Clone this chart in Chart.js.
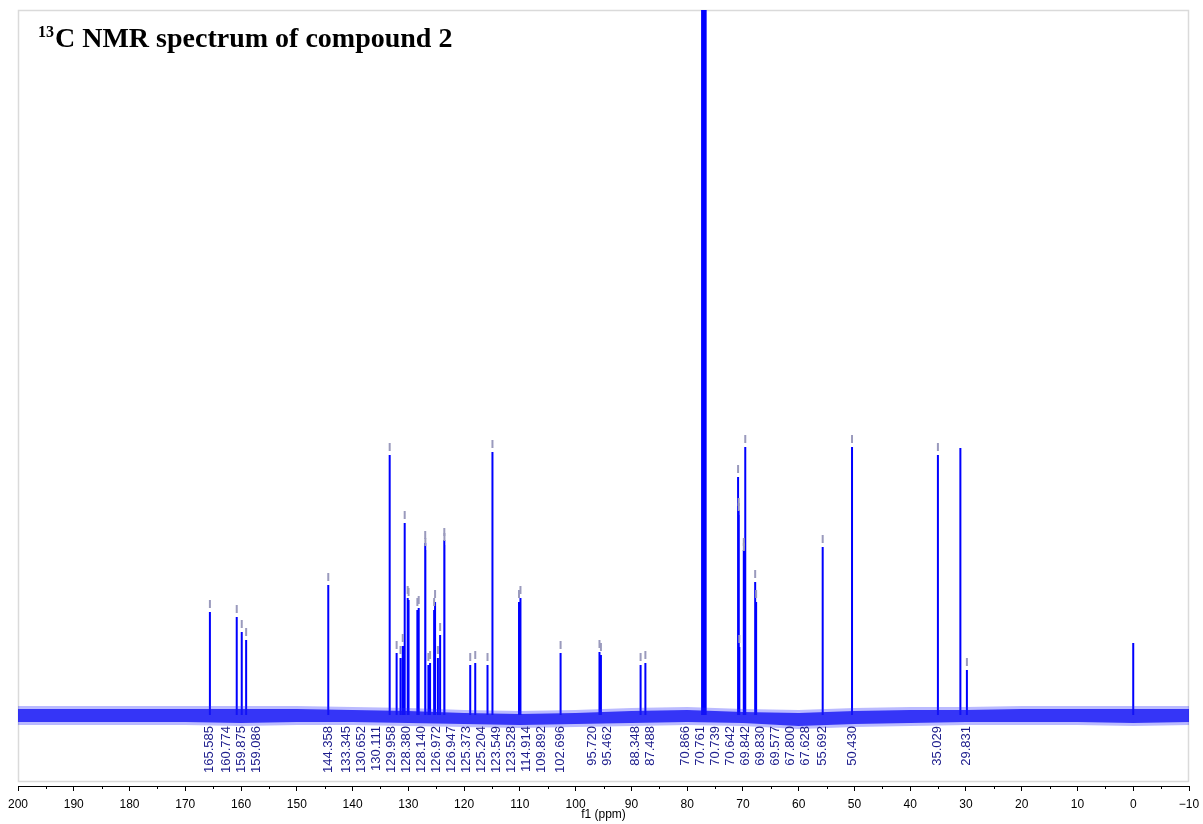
<!DOCTYPE html>
<html>
<head>
<meta charset="utf-8">
<title>13C NMR spectrum of compound 2</title>
<script src="https://cdn.jsdelivr.net/npm/chart.js@4.4.1/dist/chart.umd.min.js"></script>
<style>
  html, body { margin: 0; padding: 0; background: #fff; }
  #wrap { position: relative; width: 1203px; height: 824px; }
  #title {
    position: absolute; left: 38px; top: 22px;
    font: bold 28px "Liberation Serif", "Times New Roman", serif;
    color: #000; white-space: nowrap;
  }
  #title sup { font-size: 16px; vertical-align: baseline; position: relative; top: -10px; margin-right: 1px; }
</style>
</head>
<body>
<div id="wrap">
  <canvas id="nmr" width="1203" height="824"></canvas>
  <div id="title"><sup>13</sup>C NMR spectrum of compound 2</div>
</div>
<script>
// picked + labelled peaks: shift (ppm) and height above baseline
var pickPpm = [165.585, 160.774, 159.875, 159.086, 144.358, 133.345, 130.652, 130.111,
               129.958, 128.380, 128.140, 126.972, 126.947, 125.373, 125.204, 123.549,
               123.528, 114.914, 109.892, 102.696, 95.720, 95.462, 88.348, 87.488,
               70.866, 70.761, 70.739, 70.642, 69.842, 69.830, 69.577, 67.800,
               67.628, 55.692, 50.430, 35.029, 29.831];
var pickHeight = [103, 98, 83, 75, 130, 260, 192, 117,
                  115, 105, 107, 172, 165, 105, 113, 175,
                  170, 263, 117, 62, 63, 60, 50, 52,
                  238, 205, 200, 68, 165, 160, 268, 133,
                  113, 168, 268, 260, 45];

// picked but without a printed label
var extraPpm = [132.10, 131.40, 131.00, 126.40, 126.10, 124.70, 124.30, 118.90, 118.00, 115.80, 110.15];
var extraHeight = [62, 57, 69, 50, 52, 57, 80, 50, 52, 50, 113];

// solvent (CDCl3 triplet), grease and TMS - not picked
var refPpm = [77.32, 77.00, 76.68, 31.00, 0.00];
var refHeight = [900, 900, 900, 267, 72];

// baseline noise envelope
var noisePpm = [200, 190, 180, 170, 160, 150, 140, 130, 120, 110, 100, 90, 80, 70, 60, 50, 40, 30, 20, 10, 0, -10];
var noiseHi = [9, 9, 9, 9, 9, 9, 8, 7, 5, 4, 5, 7, 8, 6, 5, 7, 8, 8, 9, 9, 9, 9];
var noiseLo = [-10, -10, -10, -10, -11, -10, -10, -11, -12, -13, -12, -11, -10, -11, -14, -12, -11, -10, -10, -10, -11, -10];

var axisTicks = [200, 190, 180, 170, 160, 150, 140, 130, 120, 110, 100, 90, 80, 70, 60, 50, 40, 30, 20, 10, 0, -10];

var LABEL_GAP = 15;

function sticks(ppm, height) {
    var pts = [];
    for (var i = 0; i < ppm.length; i++) {
        pts.push({ x: ppm[i], y: 0 }, { x: ppm[i], y: height[i] }, { x: ppm[i], y: 0 }, { x: ppm[i], y: null });
    }
    return pts;
}

function envelope(vals, shrink) {
    return noisePpm.map(function (p, i) {
        return { x: p, y: vals[i] > 0 ? vals[i] - shrink : vals[i] + shrink };
    });
}

// spread label centres to a minimum gap; the worst overlap is merged first and
// each group sits between the mean and the middle of its peaks
function spreadLabels(xs, gap) {
    var groups = xs.map(function (x) { return [x]; });
    function centre(g) {
        var sum = 0;
        for (var k = 0; k < g.length; k++) sum += g[k];
        return (sum / g.length + (g[0] + g[g.length - 1]) / 2) / 2;
    }
    function start(g) { return centre(g) - (g.length - 1) * gap / 2; }
    for (;;) {
        var best = -1, worst = 0;
        for (var i = 0; i < groups.length - 1; i++) {
            var ov = start(groups[i]) + groups[i].length * gap - start(groups[i + 1]);
            if (ov > worst) { worst = ov; best = i; }
        }
        if (best < 0) break;
        groups.splice(best, 2, groups[best].concat(groups[best + 1]));
    }
    var out = [];
    groups.forEach(function (g) {
        var s = start(g);
        for (var k = 0; k < g.length; k++) out.push(s + k * gap);
    });
    return out;
}

var peakLabels = {
    id: 'peakLabels',
    beforeDatasetsDraw: function (chart) {
        var ctx = chart.ctx, a = chart.chartArea;
        ctx.save();
        ctx.strokeStyle = '#dadada';
        ctx.lineWidth = 1.5;
        ctx.strokeRect(a.left + 0.5, a.top + 0.5, a.right - a.left - 1, a.bottom - a.top - 5);
        ctx.restore();
    },
    afterDatasetsDraw: function (chart) {
        var ctx = chart.ctx, xs = chart.scales.x, ys = chart.scales.y;
        ctx.save();

        // pick marks above every picked peak
        ctx.strokeStyle = '#9a9abd';
        ctx.lineWidth = 2;
        var marks = pickPpm.map(function (p, i) { return [p, pickHeight[i]]; })
            .concat(extraPpm.map(function (p, i) { return [p, extraHeight[i]]; }));
        marks.forEach(function (m) {
            var x = xs.getPixelForValue(m[0]);
            var y = ys.getPixelForValue(m[1]);
            ctx.beginPath();
            ctx.moveTo(x, y - 12);
            ctx.lineTo(x, y - 4);
            ctx.stroke();
        });

        // vertical shift labels under the baseline
        var order = pickPpm.map(function (p, i) { return { x: xs.getPixelForValue(p), i: i }; })
            .sort(function (a, b) { return a.x - b.x; });
        var pos = spreadLabels(order.map(function (o) { return o.x; }), LABEL_GAP);
        var top = ys.getPixelForValue(-11);
        ctx.fillStyle = '#1c1c8c';
        ctx.font = '13px "Liberation Sans", Arial, sans-serif';
        ctx.textAlign = 'right';
        ctx.textBaseline = 'middle';
        order.forEach(function (o, k) {
            ctx.save();
            ctx.translate(pos[k], top);
            ctx.rotate(-Math.PI / 2);
            ctx.fillText(pickPpm[o.i].toFixed(3), 0, 0);
            ctx.restore();
        });
        ctx.restore();
    },
    afterDraw: function (chart) {
        var ctx = chart.ctx, xs = chart.scales.x, a = chart.chartArea;
        ctx.save();
        // minor ticks every 5 ppm
        ctx.strokeStyle = '#000';
        ctx.lineWidth = 1;
        for (var v = -5; v < 200; v += 10) {
            var x = Math.round(xs.getPixelForValue(v)) + 0.5;
            ctx.beginPath();
            ctx.moveTo(x, a.bottom);
            ctx.lineTo(x, a.bottom + 3);
            ctx.stroke();
        }
        ctx.fillStyle = '#000';
        ctx.font = '12px "Liberation Sans", Arial, sans-serif';
        ctx.textAlign = 'center';
        ctx.textBaseline = 'middle';
        ctx.fillText('f1 (ppm)', (a.left + a.right) / 2, 815);
        ctx.restore();
    }
};

var chart = new Chart(document.getElementById('nmr'), {
    type: 'line',
    data: {
        datasets: [
            { data: envelope(noiseLo, 0), borderWidth: 0, pointRadius: 0, fill: false },
            { data: envelope(noiseHi, 0), borderWidth: 0, pointRadius: 0, fill: '-1', backgroundColor: 'rgba(40,40,255,0.32)' },
            { data: envelope(noiseLo, 3), borderWidth: 0, pointRadius: 0, fill: false },
            { data: envelope(noiseHi, 3), borderWidth: 0, pointRadius: 0, fill: '-1', backgroundColor: 'rgba(10,10,240,0.8)' },
            {
                data: sticks(pickPpm, pickHeight).concat(sticks(extraPpm, extraHeight), sticks(refPpm, refHeight)),
                borderColor: '#0000ff', borderWidth: 2, pointRadius: 0, fill: false,
                spanGaps: false, tension: 0
            }
        ]
    },
    options: {
        responsive: false,
        animation: false,
        devicePixelRatio: 1,
        layout: { padding: { left: 18, right: 14, top: 10, bottom: 0 } },
        plugins: { legend: { display: false }, tooltip: { enabled: false } },
        scales: {
            x: {
                type: 'linear',
                reverse: true,
                min: -10,
                max: 200,
                afterFit: function (s) {
                    s.height = 38;
                    s.paddingLeft = 0;
                    s.paddingRight = 0;
                },
                afterBuildTicks: function (s) { s.ticks = axisTicks.map(function (v) { return { value: v }; }); },
                ticks: {
                    autoSkip: false,
                    maxRotation: 0,
                    padding: 6,
                    color: '#000',
                    font: { family: '"Liberation Sans", Arial, sans-serif', size: 12 },
                    callback: function (v) { return String(v).replace('-', '\u2212'); }
                },
                grid: { drawOnChartArea: false, color: '#000', tickLength: 5 },
                border: { color: '#000', width: 1 }
            },
            y: { display: false, min: -71, max: 705 }
        }
    },
    plugins: [peakLabels]
});
</script>
</body>
</html>
